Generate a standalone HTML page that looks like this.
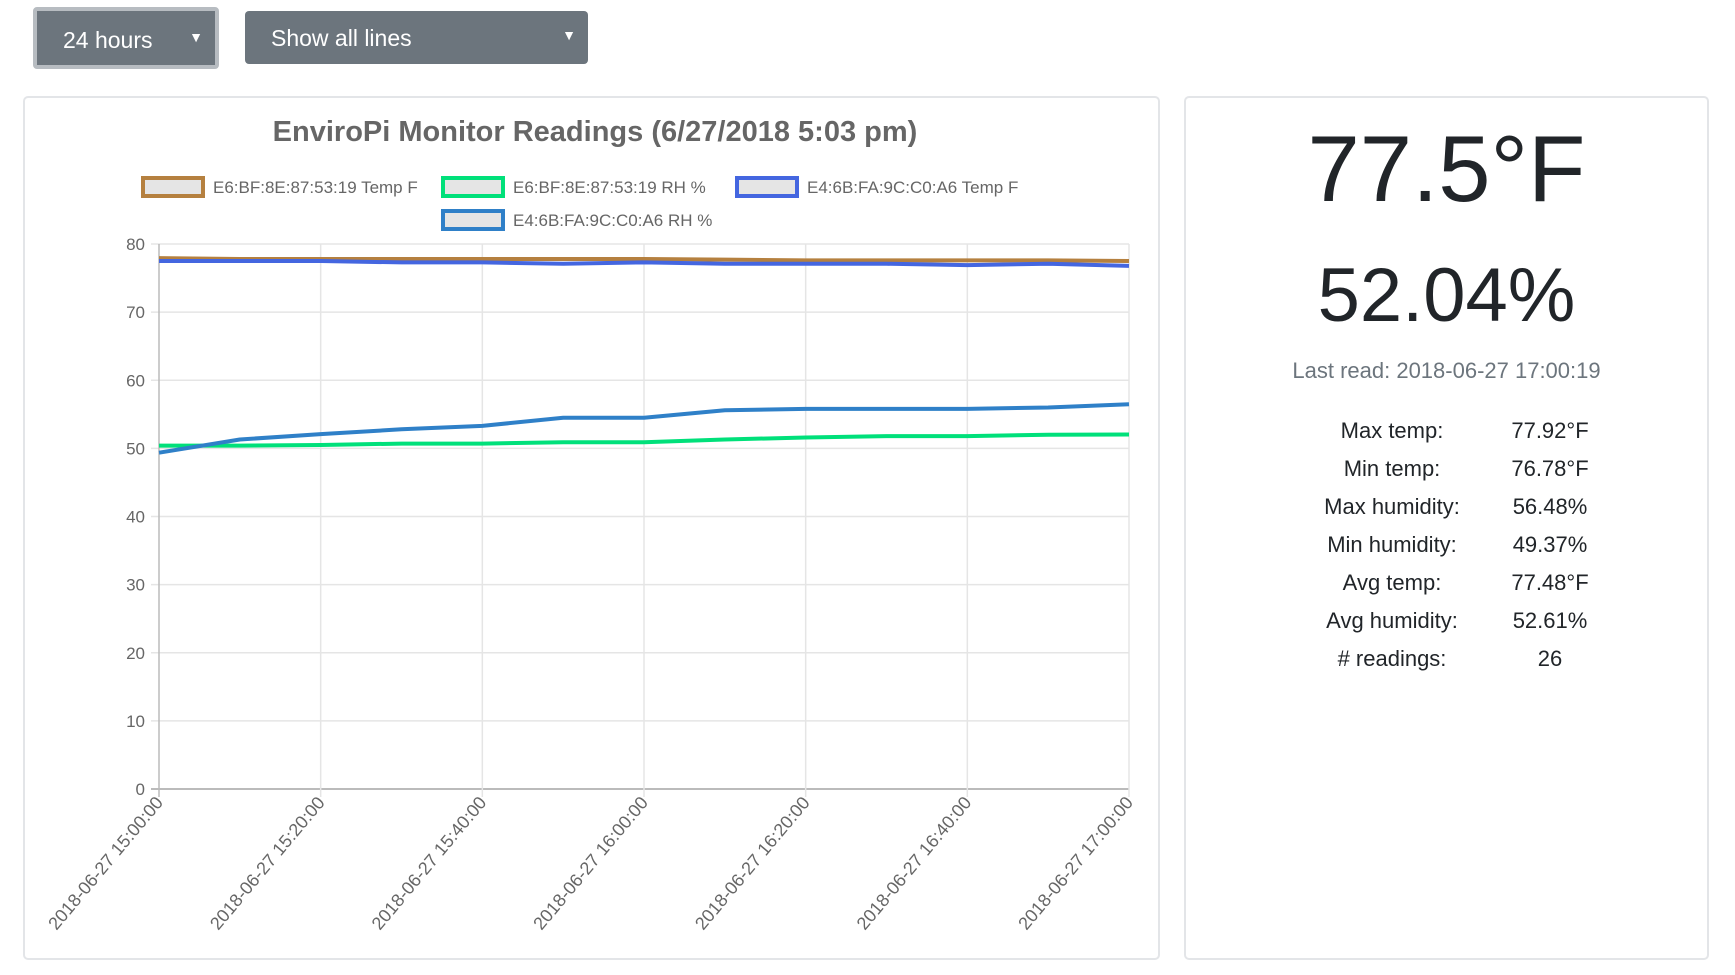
<!DOCTYPE html>
<html><head><meta charset="utf-8">
<style>
body{margin:0;width:1735px;height:975px;background:#fff;font-family:"Liberation Sans",sans-serif;position:relative;overflow:hidden}
.btn{position:absolute;background:#6c757d;color:#fff;border-radius:4px;font-size:23px;box-sizing:border-box}
.card{position:absolute;border:2px solid #e3e5e8;border-radius:5px;box-sizing:border-box;background:#fff}
.big{position:absolute;left:0;width:100%;text-align:center;color:#212529}
.row{position:absolute;font-size:22px;color:#212529}
</style></head><body>
<div class="btn" style="left:33px;top:7px;width:186px;height:62px;border:4px solid #b7bcc1;padding:16px 0 0 26px">24 hours<span style="position:absolute;right:12px;top:18px;font-size:14px">▼</span></div>
<div class="btn" style="left:245px;top:11px;width:343px;height:53px;padding:14px 0 0 26px">Show all lines<span style="position:absolute;right:12px;top:16px;font-size:14px">▼</span></div>

<div class="card" style="left:23px;top:96px;width:1137px;height:864px">
<svg id="chart" width="1137" height="864" style="position:absolute;left:-2px;top:-2px"></svg>
</div>

<div class="card" style="left:1184px;top:96px;width:525px;height:864px">
<div class="big" style="top:17px;font-size:94px;font-weight:300">77.5°F</div>
<div class="big" style="top:154px;font-size:76px;font-weight:300">52.04%</div>
<div class="big" style="top:260px;font-size:22px;color:#6c757d">Last read: 2018-06-27 17:00:19</div>
<div id="stats"></div>
</div>
<script>
const statLabels=["Max temp:","Min temp:","Max humidity:","Min humidity:","Avg temp:","Avg humidity:","# readings:"];
const statValues=["77.92°F","76.78°F","56.48%","49.37%","77.48°F","52.61%","26"];
const st=document.getElementById('stats');
statLabels.forEach((l,i)=>{
 const a=document.createElement('div');a.className='row';a.textContent=l;
 a.style.cssText=`left:56px;width:300px;text-align:center;top:${320+i*38}px`;
 
 
 const b=document.createElement('div');b.className='row';b.textContent=statValues[i];
 b.style.cssText=`left:314px;width:100px;text-align:center;top:${320+i*38}px`;
 
 
 st.appendChild(a);st.appendChild(b);
});

const xLabels=["2018-06-27 15:00:00","2018-06-27 15:20:00","2018-06-27 15:40:00","2018-06-27 16:00:00","2018-06-27 16:20:00","2018-06-27 16:40:00","2018-06-27 17:00:00"];
const yTicks=[0,10,20,30,40,50,60,70,80];
const seriesNames=["E6:BF:8E:87:53:19 Temp F","E6:BF:8E:87:53:19 RH %","E4:6B:FA:9C:C0:A6 Temp F","E4:6B:FA:9C:C0:A6 RH %"];
const seriesColors=["#b5803f","#00e07a","#4466e0","#2f80c8"];
const tempA=[77.92,77.8,77.8,77.8,77.8,77.8,77.8,77.7,77.6,77.6,77.6,77.6,77.5];
const rhA=[50.4,50.4,50.5,50.7,50.7,50.9,50.9,51.3,51.6,51.8,51.8,52.0,52.04];
const tempB=[77.5,77.5,77.5,77.3,77.3,77.1,77.3,77.1,77.1,77.1,76.9,77.1,76.78];
const rhB=[49.37,51.3,52.1,52.8,53.3,54.5,54.5,55.6,55.8,55.8,55.8,56.0,56.48];
const NS="http://www.w3.org/2000/svg";
const svg=document.getElementById('chart');
const L=136,R=1106,T=148,B=693;
const X=i=>L+(R-L)*i/12, Y=v=>B-(B-T)*v/80;
function mk(t,at,nm){const e=document.createElementNS(NS,t);for(const k in at)e.setAttribute(k,at[k]);
 
 
 svg.appendChild(e);return e;}
const title=mk('text',{x:572,y:45,'text-anchor':'middle','font-size':29,'font-weight':'bold',fill:'#666','font-family':'Liberation Sans'},'chart-title');
title.textContent="EnviroPi Monitor Readings (6/27/2018 5:03 pm)";
const legPos=[[120,90],[420,90],[714,90],[420,123]];
seriesNames.forEach((n,i)=>{const [x,y]=legPos[i];
 mk('rect',{x:x,y:y-8,width:60,height:18,fill:'#e5e5e5',stroke:seriesColors[i],'stroke-width':4},'legend-swatch');
 const t=mk('text',{x:x+70,y:y+7,'font-size':17,fill:'#666','font-family':'Liberation Sans'},'legend-label');t.textContent=n;});
yTicks.forEach(v=>{
 mk('line',{x1:L-8,x2:R,y1:Y(v),y2:Y(v),stroke:v==0?'#bbb':'#e5e5e5','stroke-width':v==0?2:1.5},'y-gridline');
 const t=mk('text',{x:L-14,y:Y(v)+6,'text-anchor':'end','font-size':17,fill:'#666','font-family':'Liberation Sans'},'y-tick-label');t.textContent=v;});
xLabels.forEach((s,i)=>{const x=X(i*2);
 mk('line',{x1:x,x2:x,y1:T,y2:B+8,stroke:i==0?'#bbb':'#e5e5e5','stroke-width':1.5},'x-gridline');
 const t=mk('text',{x:x+5,y:B+14,'text-anchor':'end','font-size':18,fill:'#666','font-family':'Liberation Sans',transform:`rotate(-50 ${x+5} ${B+14})`},'x-tick-label');t.textContent=s;});
[tempA,rhA,tempB,rhB].forEach((d,k)=>{
 mk('polyline',{points:d.map((v,i)=>X(i)+','+Y(v)).join(' '),fill:'none',stroke:seriesColors[k],'stroke-width':4,'stroke-linejoin':'round'},'series-line');});
</script>
</body></html>
